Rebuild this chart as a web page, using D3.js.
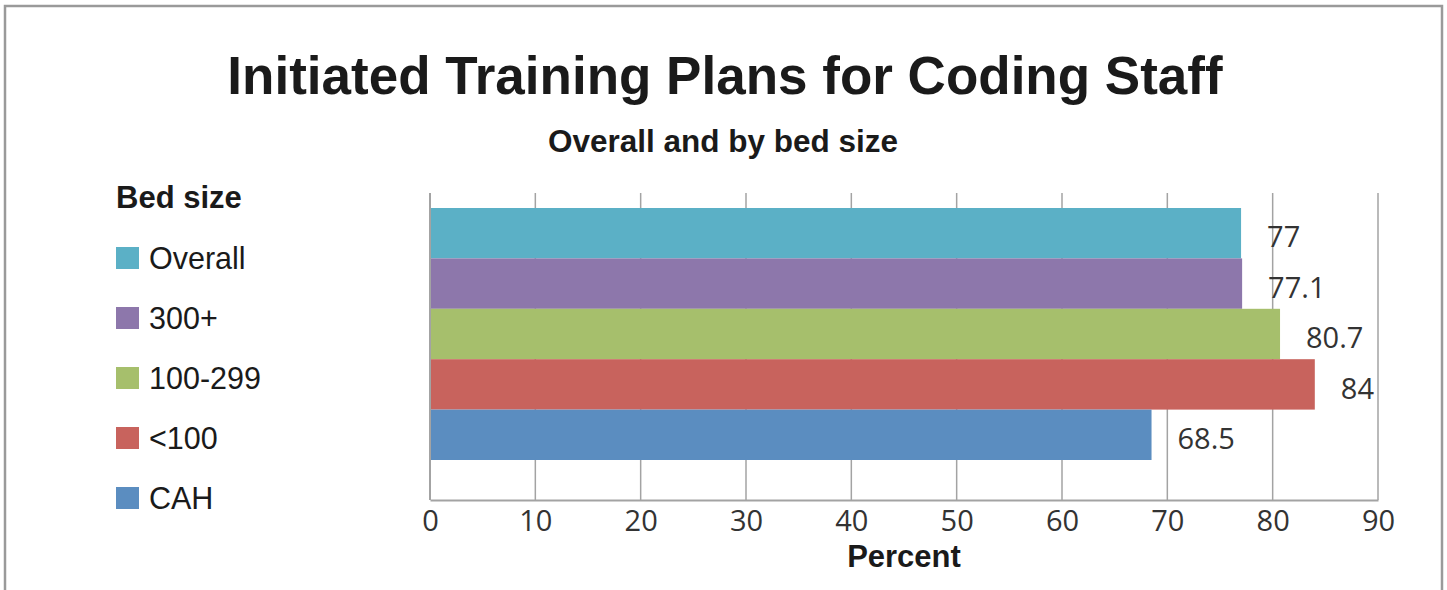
<!DOCTYPE html>
<html><head><meta charset="utf-8">
<script src="https://cdn.jsdelivr.net/npm/d3@7"></script>
<style>body{margin:0;background:#fff}</style>
</head><body>
<script>
const categories = ["Overall", "300+", "100-299", "<100", "CAH"];
const values = [77, 77.1, 80.7, 84, 68.5];
const valueLabels = ["77", "77.1", "80.7", "84", "68.5"];
const colors = ["#5bb0c6", "#8d77ab", "#a6bf6c", "#c8635d", "#5b8dc0"];
const xTicks = [0, 10, 20, 30, 40, 50, 60, 70, 80, 90];

const W = 1447, H = 590;
const svg = d3.select("body").append("svg").attr("width", W).attr("height", H);
svg.append("rect").attr("width", W).attr("height", H).attr("fill", "#fff");
// frame
svg.append("path").attr("d", "M5,600 V6 H1442 V600").attr("fill", "none").attr("stroke", "#9a9a9a").attr("stroke-width", 2.5);

const plotL = 430, plotR = 1378, plotT = 193, plotB = 500;
const x = d3.scaleLinear().domain([0, 90]).range([plotL, plotR]);
const y = d3.scaleBand().domain(categories).range([208, 460]).padding(0);

const sans = "'Liberation Sans', Arial, Helvetica, sans-serif";
const num = "'Open Sans', 'DejaVu Sans', sans-serif";

svg.append("text").attr("x", 725).attr("y", 94).attr("text-anchor", "middle")
  .attr("font-family", sans).attr("font-weight", "bold").attr("font-size", 53).attr("fill", "#1a1a1a")
  .text("Initiated Training Plans for Coding Staff");
svg.append("text").attr("x", 723).attr("y", 152).attr("text-anchor", "middle")
  .attr("font-family", sans).attr("font-weight", "bold").attr("font-size", 31.5).attr("fill", "#1a1a1a")
  .text("Overall and by bed size");

// gridlines
svg.append("g").selectAll("line").data(xTicks.slice(1)).join("line")
  .attr("x1", d => x(d)).attr("x2", d => x(d)).attr("y1", plotT).attr("y2", plotB)
  .attr("stroke", "#a3a3a3").attr("stroke-width", 1.5);

// bars
svg.append("g").selectAll("rect").data(categories).join("rect")
  .attr("x", x(0)).attr("y", d => y(d)).attr("height", y.bandwidth())
  .attr("width", (d, i) => x(values[i]) - x(0)).attr("fill", (d, i) => colors[i]);

// axes
const xAxis = svg.append("g").attr("transform", `translate(0,${plotB})`)
  .call(d3.axisBottom(x).tickValues(xTicks).tickSize(0).tickPadding(10));
xAxis.select(".domain").attr("stroke", "#a3a3a3").attr("stroke-width", 2);
xAxis.selectAll("text").attr("font-family", num).attr("font-size", 29).attr("fill", "#333").attr("dy", "0.72em");
svg.append("line").attr("x1", plotL).attr("x2", plotL).attr("y1", plotT).attr("y2", plotB)
  .attr("stroke", "#a3a3a3").attr("stroke-width", 2);

// value labels
svg.append("g").selectAll("text").data(categories).join("text")
  .attr("x", (d, i) => x(values[i]) + 26).attr("y", d => y(d) + y.bandwidth() / 2 + 4)
  .attr("dy", "0.35em").attr("font-family", num).attr("font-size", 29).attr("fill", "#333")
  .text((d, i) => valueLabels[i]);

svg.append("text").attr("x", (plotL + plotR) / 2).attr("y", 567).attr("text-anchor", "middle")
  .attr("font-family", sans).attr("font-weight", "bold").attr("font-size", 31).attr("fill", "#1a1a1a")
  .text("Percent");

// legend
svg.append("text").attr("x", 116).attr("y", 208).attr("font-family", sans).attr("font-weight", "bold")
  .attr("font-size", 31).attr("fill", "#1a1a1a").text("Bed size");
const lg = svg.append("g").selectAll("g").data(categories).join("g")
  .attr("transform", (d, i) => `translate(116,${247 + i * 60})`);
lg.append("rect").attr("width", 23).attr("height", 22).attr("fill", (d, i) => colors[i]);
lg.append("text").attr("x", 33).attr("y", 22).attr("font-family", sans).attr("font-size", 30.5)
  .attr("fill", "#1a1a1a").text(d => d);
</script>
</body></html>
